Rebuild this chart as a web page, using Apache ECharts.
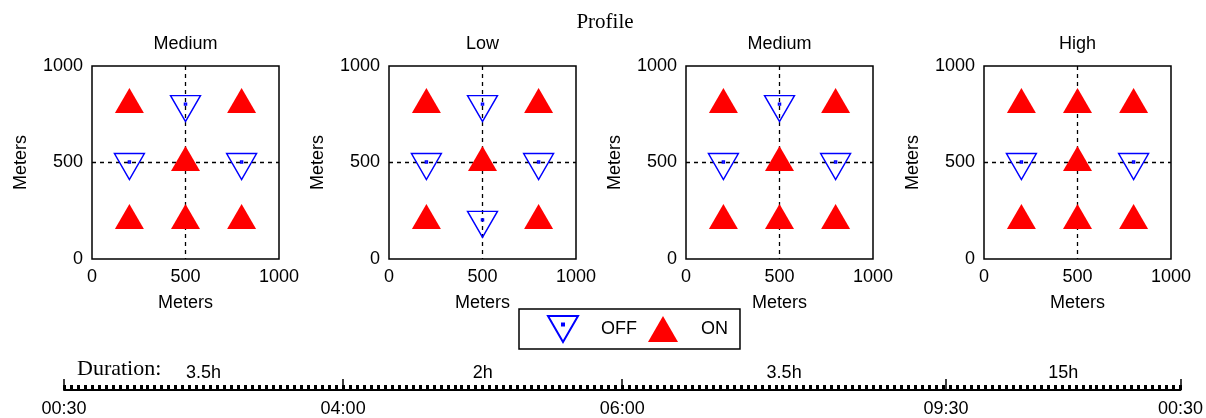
<!DOCTYPE html>
<html>
<head>
<meta charset="utf-8">
<script src="https://cdn.jsdelivr.net/npm/echarts@6/dist/echarts.min.js"></script>
<style>
  html, body { margin: 0; padding: 0; background: #fff; }
  #chart { width: 1206px; height: 418px; }
</style>
</head>
<body>
<div id="chart"></div>
<script>
// Station layout (meters) on a 3x3 grid, read row by row from the top
const stationX = [200, 500, 800, 200, 500, 800, 200, 500, 800];
const stationY = [800, 800, 800, 500, 500, 500, 200, 200, 200];

// Switching state per station (1 = ON, 0 = OFF) for each profile
const stateMedium = [1, 0, 1, 0, 1, 0, 1, 1, 1];
const stateLow    = [1, 0, 1, 0, 1, 0, 1, 0, 1];
const stateHigh   = [1, 1, 1, 0, 1, 0, 1, 1, 1];

const panelTitles = ['Medium', 'Low', 'Medium', 'High'];
const panelStates = [stateMedium, stateLow, stateMedium, stateHigh];

// Daily schedule: boundaries along the time bar and the duration of each block
const timeLabels = ['00:30', '04:00', '06:00', '09:30', '00:30'];
const timePositions = [0, 0.25, 0.5, 0.79, 1];
const durations = ['3.5h', '2h', '3.5h', '15h'];

const SANS = 'Liberation Sans, Arial, sans-serif';
const SERIF = 'Liberation Serif, Times New Roman, serif';
const RED = '#ff0000';
const BLUE = '#0000ff';

// Open down-pointing triangle with a dot at its centroid
const OFF_SYMBOL = 'path://M0,0L30,0L15,26Z M14,7.5L16,7.5L16,9.5L14,9.5Z';

const panelLeft = [92, 389, 686, 984];
const panelW = 187, panelTop = 66, panelH = 193;

const grids = [], xAxes = [], yAxes = [], series = [], graphics = [];
const plainNumber = v => String(v);

panelTitles.forEach((title, i) => {
  grids.push({
    left: panelLeft[i], top: panelTop, width: panelW, height: panelH,
    show: true, borderColor: '#000', borderWidth: 1.5, backgroundColor: '#fff'
  });
  const dash = { color: '#000', width: 1.3, type: [4, 4] };
  xAxes.push({
    gridIndex: i, type: 'value', min: 0, max: 1000, interval: 500,
    name: 'Meters', nameLocation: 'middle', nameGap: 35,
    nameTextStyle: { fontFamily: SANS, fontSize: 18, color: '#000' },
    axisLine: { show: false }, axisTick: { show: false },
    axisLabel: { fontFamily: SANS, fontSize: 18, color: '#000', margin: 9, formatter: plainNumber },
    splitLine: { show: true, showMinLine: false, showMaxLine: false, lineStyle: dash }
  });
  yAxes.push({
    gridIndex: i, type: 'value', min: 0, max: 1000, interval: 500,
    name: 'Meters', nameLocation: 'middle', nameGap: 62,
    nameTextStyle: { fontFamily: SANS, fontSize: 18, color: '#000' },
    axisLine: { show: false }, axisTick: { show: false },
    axisLabel: { fontFamily: SANS, fontSize: 18, color: '#000', margin: 9, formatter: plainNumber },
    splitLine: { show: true, showMinLine: false, showMaxLine: false, lineStyle: dash }
  });

  const states = panelStates[i];
  const offPts = [], onPts = [];
  states.forEach((s, k) => {
    (s ? onPts : offPts).push([stationX[k], stationY[k]]);
  });

  series.push({
    name: 'OFF', type: 'scatter', xAxisIndex: i, yAxisIndex: i,
    symbol: OFF_SYMBOL, symbolSize: [30, 26], symbolOffset: [0, 4],
    itemStyle: { color: 'rgba(0,0,0,0)', borderColor: BLUE, borderWidth: 1.4, opacity: 1 },
    emphasis: { disabled: true }, silent: true, z: 3,
    data: offPts
  });
  series.push({
    name: 'ON', type: 'scatter', xAxisIndex: i, yAxisIndex: i,
    symbol: 'triangle', symbolSize: [29, 25], symbolOffset: [0, -4],
    itemStyle: { color: RED, opacity: 1 },
    emphasis: { disabled: true }, silent: true, z: 3,
    data: onPts
  });

  graphics.push({
    type: 'text', x: panelLeft[i] + panelW / 2, y: 44,
    style: { text: title, fill: '#000', font: '18px ' + SANS, align: 'center', verticalAlign: 'middle' }
  });
});

// Time bar along the bottom: grid 4, x axes 4 (major) and 5 (fine ticks)
const TL = 4;
grids.push({ left: 64, width: 1119, top: 356, height: 34 });
xAxes.push({
  gridIndex: TL, type: 'value', min: 0, max: 1, position: 'bottom',
  axisLine: { show: true, lineStyle: { color: '#000', width: 2 } },
  axisTick: { show: true, inside: true, length: 11, customValues: timePositions,
              lineStyle: { color: '#000', width: 1.5 } },
  axisLabel: {
    show: true, customValues: timePositions, margin: 10,
    fontFamily: SANS, fontSize: 18, color: '#000',
    formatter: v => {
      let best = 0;
      timePositions.forEach((p, k) => { if (Math.abs(p - v) < Math.abs(timePositions[best] - v)) best = k; });
      return timeLabels[best];
    }
  },
  splitLine: { show: false }
});
xAxes.push({
  gridIndex: TL, type: 'value', min: 0, max: 160, interval: 1, position: 'bottom',
  axisLine: { show: false },
  axisTick: { show: true, inside: true, length: 5, lineStyle: { color: '#000', width: 3 } },
  axisLabel: { show: false },
  splitLine: { show: false }
});
yAxes.push({ gridIndex: TL, type: 'value', min: 0, max: 1, show: false });

series.push({
  name: 'Duration', type: 'scatter', xAxisIndex: 4, yAxisIndex: TL,
  symbolSize: 0, silent: true,
  itemStyle: { color: '#000', opacity: 1 },
  label: {
    show: true, position: 'inside', formatter: p => p.data[2],
    fontFamily: SANS, fontSize: 18, color: '#000', textBorderWidth: 0
  },
  data: durations.map((d, k) => [(timePositions[k] + timePositions[k + 1]) / 2, 0.5, d])
});

graphics.push({
  type: 'text', x: 605, y: 22,
  style: { text: 'Profile', fill: '#000', font: '21px ' + SERIF, align: 'center', verticalAlign: 'middle' }
});
graphics.push({
  type: 'text', x: 77, y: 369,
  style: { text: 'Duration:', fill: '#000', font: '22px ' + SERIF, align: 'left', verticalAlign: 'middle' }
});

const chart = echarts.init(document.getElementById('chart'), null, { renderer: 'canvas' });
chart.setOption({
  animation: false,
  backgroundColor: '#fff',
  grid: grids,
  xAxis: xAxes,
  yAxis: yAxes,
  legend: {
    data: ['OFF', 'ON'],
    left: 519, top: 309,
    orient: 'horizontal',
    padding: [6, 12, 6, 28],
    itemWidth: 30, itemHeight: 26, itemGap: 11,
    borderColor: '#000', borderWidth: 1.5,
    selectedMode: false,
    textStyle: { fontFamily: SANS, fontSize: 18, color: '#000', padding: [0, 0, 0, 18] }
  },
  graphic: graphics,
  series: series
});
</script>
</body>
</html>
